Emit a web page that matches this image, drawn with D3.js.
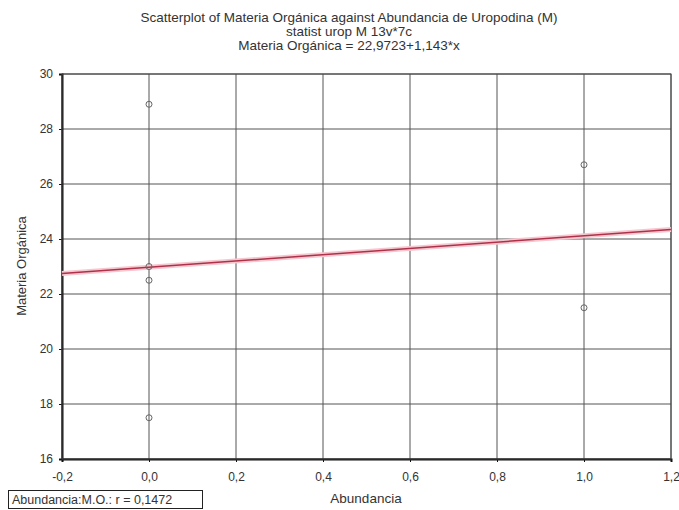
<!DOCTYPE html>
<html><head><meta charset="utf-8">
<script src="https://cdn.jsdelivr.net/npm/d3@7"></script>
<style>body{margin:0;background:#fff}svg{display:block}text{font-family:"Liberation Sans",Arial,sans-serif;fill:#333}</style>
</head><body><svg id="c" width="679" height="510"></svg>
<script>
const titleLines = ["Scatterplot of Materia Orgánica against Abundancia de Uropodina (M)", "statist urop M 13v*7c", "Materia Orgánica = 22,9723+1,143*x"];
const abundancia = [0, 0, 0, 0, 1, 1];
const materiaOrganica = [28.9, 23.0, 22.5, 17.5, 26.7, 21.5];
const xTicks = [-0.2, 0, 0.2, 0.4, 0.6, 0.8, 1.0, 1.2];
const yTicks = [16, 18, 20, 22, 24, 26, 28, 30];
const intercept = 22.9723, slope = 1.143;
const legendText = "Abundancia:M.O.: r = 0,1472";

const svg = d3.select("#c");
const x = d3.scaleLinear().domain([-0.2, 1.2]).range([62, 671]);
const y = d3.scaleLinear().domain([16, 30]).range([459, 74]);
const fmt = d => d3.format(".1f")(d).replace(".", ",").replace("\u2212", "-").replace(/^-0,0$/, "0,0");

// grid
svg.append("g").selectAll("line").data(xTicks).join("line")
  .attr("x1", d => x(d)).attr("x2", d => x(d)).attr("y1", y(30)).attr("y2", y(16))
  .attr("stroke", "#555").attr("stroke-width", 1);
svg.append("g").selectAll("line").data(yTicks).join("line")
  .attr("x1", x(-0.2)).attr("x2", x(1.2)).attr("y1", d => y(d)).attr("y2", d => y(d))
  .attr("stroke", "#555").attr("stroke-width", 1);

// axes
const gx = svg.append("g").attr("transform", `translate(0,${y(16)})`)
  .call(d3.axisBottom(x).tickValues(xTicks).tickFormat(fmt).tickSize(3));
const gy = svg.append("g").attr("transform", `translate(${x(-0.2)},0)`)
  .call(d3.axisLeft(y).tickValues(yTicks).tickFormat(d3.format("d")).tickSize(3));
[gx, gy].forEach(g => {
  g.select(".domain").attr("stroke", "#111").attr("stroke-width", 2);
  g.selectAll(".tick line").attr("stroke", "#111");
  g.selectAll("text").attr("font-size", 12).attr("fill", "#333").style("font-family", "'Liberation Sans',Arial,sans-serif");
});
gx.selectAll("text").attr("dy", "1.35em");
gy.selectAll("text").attr("dx", "-3");
svg.append("rect").attr("x", x(-0.2)).attr("y", y(30)).attr("width", x(1.2) - x(-0.2)).attr("height", y(16) - y(30))
  .attr("fill", "none").attr("stroke", "#444").attr("stroke-width", 1);

// regression line
const lineX = [-0.2, 1.2];
svg.append("line").attr("x1", x(lineX[0])).attr("x2", x(lineX[1]))
  .attr("y1", y(intercept + slope * lineX[0])).attr("y2", y(intercept + slope * lineX[1]))
  .attr("stroke", "#f5c8d0").attr("stroke-width", 5);
svg.append("line").attr("x1", x(lineX[0])).attr("x2", x(lineX[1]))
  .attr("y1", y(intercept + slope * lineX[0])).attr("y2", y(intercept + slope * lineX[1]))
  .attr("stroke", "#b0304a").attr("stroke-width", 1.5);

// points
svg.append("g").selectAll("circle").data(abundancia.map((a, i) => [a, materiaOrganica[i]])).join("circle")
  .attr("cx", d => x(d[0])).attr("cy", d => y(d[1])).attr("r", 3)
  .attr("fill", "none").attr("stroke", "#666").attr("stroke-width", 1);

// titles
svg.append("g").selectAll("text").data(titleLines).join("text")
  .attr("x", 349).attr("y", (d, i) => 22 + i * 14).attr("text-anchor", "middle")
  .attr("font-size", 13.5).text(d => d);

svg.append("text").attr("x", 366).attr("y", 503).attr("text-anchor", "middle").attr("font-size", 13.5).text("Abundancia");
svg.append("text").attr("transform", "translate(26,266) rotate(-90)").attr("text-anchor", "middle").attr("font-size", 13).text("Materia Orgánica");

// legend box
svg.append("rect").attr("x", 8.5).attr("y", 490.5).attr("width", 194).attr("height", 18)
  .attr("fill", "none").attr("stroke", "#222").attr("stroke-width", 1);
svg.append("text").attr("x", 12).attr("y", 504).attr("font-size", 12.5).text(legendText);
</script></body></html>
